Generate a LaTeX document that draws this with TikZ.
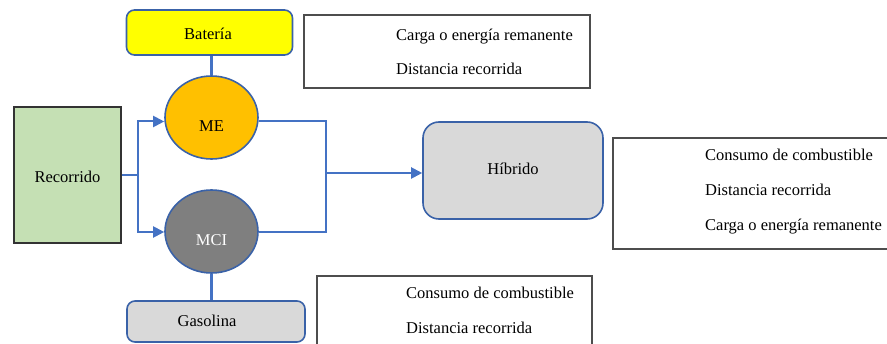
\documentclass[tikz,border=0pt]{standalone}
\usepackage{fontspec}
\setmainfont{Liberation Serif}
\usetikzlibrary{shapes.geometric,arrows.meta,calc}
\definecolor{connblue}{HTML}{4472C4}
\definecolor{edgeblue}{HTML}{3A62A8}
\definecolor{batyellow}{HTML}{FFFF00}
\definecolor{meorange}{HTML}{FFC000}
\definecolor{mcigray}{HTML}{7F7F7F}
\definecolor{lightgray}{HTML}{D9D9D9}
\definecolor{recgreen}{HTML}{C5E0B4}
\definecolor{boxline}{HTML}{4D4D4D}
\tikzset{
  every node/.style={font=\fontsize{16.5}{20}\selectfont, inner sep=0pt},
  conn/.style={draw=connblue, line width=2pt},
  stem/.style={draw=connblue, line width=3.4pt},
  tipa/.style={-{Triangle[length=11pt,width=11pt]}},
  roundbox/.style={draw=edgeblue, line width=1.6pt, rounded corners=8pt},
  oval/.style={ellipse, draw=edgeblue, line width=1.6pt, minimum width=93pt, minimum height=83pt},
  infobox/.style={draw=boxline, line width=1.4pt},
  infotext/.style={anchor=base west},
}
\begin{document}
\begin{tikzpicture}[x=1pt,y=-1pt]
\clip (0,0) rectangle (887,344);
\useasboundingbox (0,0) rectangle (887,344);
% nodes
\node[roundbox, fill=batyellow, minimum width=166pt, minimum height=45pt] (bat) at (209.5,32.5) {};
\node (batlbl) at (208,34) {Batería};
\node[infobox, minimum width=286pt, minimum height=73pt] (info1) at (447,51.5) {};
\node[infotext] (i1a) at (396,41) {Carga o energía remanente};
\node[infotext] (i1b) at (396,75) {Distancia recorrida};
\node[oval, fill=meorange] (me) at (211.5,117.5) {};
\node[oval, fill=mcigray] (mci) at (211.5,231.5) {};
\node[roundbox, fill=lightgray, minimum width=178pt, minimum height=41pt] (gas) at (216,321.5) {};
% stems between boxes and ovals
\draw[stem] (me.north |- bat.south) -- (me.north);
\draw[stem] (mci.south) -- (mci.south |- gas.north);
\node (melbl) at (211.5,126) {ME};
\node[text=white] (mcilbl) at (211.5,240) {MCI};
\node (gaslbl) at (207,321) {Gasolina};
\node[draw=black!80, line width=2pt, fill=recgreen, minimum width=107pt, minimum height=136pt] (rec) at (67.5,175) {};
\node (reclbl) at (67.5,177) {Recorrido};
\node[roundbox, rounded corners=16pt, fill=lightgray, minimum width=180pt, minimum height=97pt] (hib) at (513,170.5) {};
\node (hiblbl) at (513,169) {Híbrido};
\node[infobox, minimum width=290pt, minimum height=111pt] (info2) at (758,193.5) {};
\node[infotext] (i2a) at (705,161) {Consumo de combustible};
\node[infotext] (i2b) at (705,196) {Distancia recorrida};
\node[infotext] (i2c) at (705,231) {Carga o energía remanente};
\node[infobox, minimum width=275pt, minimum height=80pt] (info3) at (454.5,316) {};
\node[infotext] (i3a) at (406,299) {Consumo de combustible};
\node[infotext] (i3b) at (406,334) {Distancia recorrida};
% connectors
\coordinate (jl) at (138,175);
\coordinate (jr) at (326,173);
\draw[conn, tipa] (rec.east) -- (jl) |- ($(me.west)+(0,4)$);
\draw[conn, tipa] (jl) |- ($(mci.west)+(0,0.5)$);
\draw[conn] ($(me.east)+(0,4)$) -| (jr) |- ($(mci.east)+(0,0.5)$);
\draw[conn, tipa] (jr) -- (jr -| hib.west);
\end{tikzpicture}
\end{document}
